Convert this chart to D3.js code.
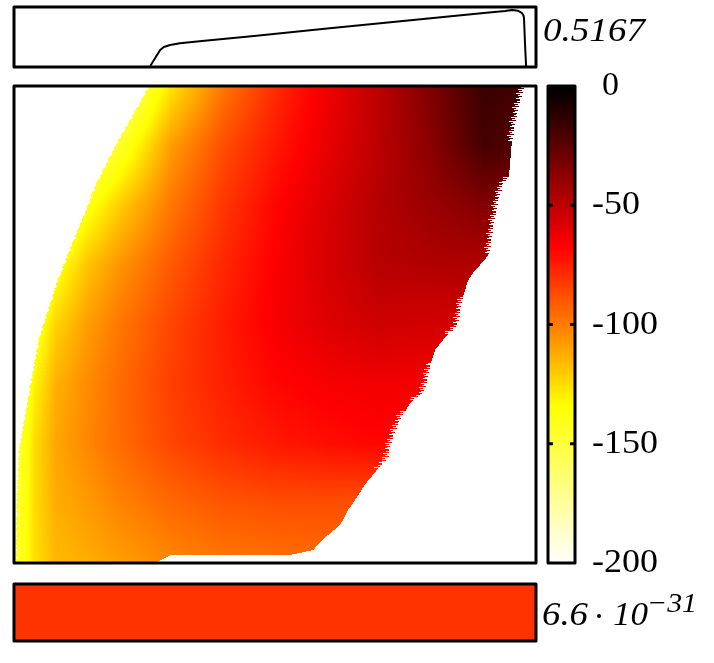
<!DOCTYPE html>
<html><head><meta charset="utf-8">
<script src="https://cdn.jsdelivr.net/npm/d3@7"></script>
<style>html,body{margin:0;padding:0;background:#fff}#w{position:relative;width:714px;height:663px}canvas,svg{position:absolute;left:0;top:0}</style>
</head><body><div id="w"><canvas id="c" width="714" height="663"></canvas><svg id="s" width="714" height="663"></svg></div>
<script>
// value grid: columns / rows in percent of the panel
const gridX = [0,4,8,14,20,30,40,50,60,70,80,90,100];
const gridY = [0,12.5,25,37.5,50,62.5,75,87.5,100];
const gridV = [
 [-240,-225,-210,-190,-170,-127,-98,-78,-63,-49,-33,-15,-18],
 [-215,-200,-188,-165,-145,-108,-87,-73,-61,-49,-36,-18,-24],
 [-195,-178,-160,-138,-121,-98,-81,-68,-57,-47,-40,-34,-36],
 [-180,-160,-138,-118,-106,-90,-77,-66,-56,-48,-46,-46,-48],
 [-168,-142,-122,-108,-98,-85,-74,-65,-58,-54,-55,-56,-58],
 [-158,-130,-113,-103,-95,-83,-75,-68,-65,-63,-65,-66,-68],
 [-153,-124,-110,-102,-95,-85,-78,-73,-70,-68,-68,-70,-72],
 [-150,-124,-112,-107,-101,-94,-89,-87,-87,-88,-90,-92,-94],
 [-148,-125,-115,-112,-108,-102,-98,-96,-95,-96,-98,-100,-102]
];
// domain outline of the filled area
const leftY  = [0,5.7,11.3,19.7,30.2,40.7,53.2,65.8,76.3,86.8,100];
const leftX  = [25.7,22.8,19.9,15.9,12.1,8.2,4.6,2.5,0.8,0.4,0.2];
const rightY = [0,5,11.3,19.3,20.1,23.9,29.1,35,36.5,38.6,40.7,44.9,50.1,53.2,55.3,58.5,61.6,64.2,65.8,69,72.1,75.3,78,80.5,83.6,86.2,88.9,92,95.2,97.3,98.3,98.4,99.8,100];
const rightX = [97.7,96.4,95.4,94.8,93.7,92.7,91.8,91,90.2,88.3,87,85.8,84.9,82.2,80.7,79.7,79.1,78.4,76.4,74.3,73,72,71.5,69.5,67.2,65.7,64,62.5,59,57.3,52.9,29.9,27.4,27];
const leftTeeth  = [0,.1,.2,.3,.15,.05,.15,.25,.35,.2,.05,.15];
const rightTeeth = [0,-.5,.1,-.9,-.2,-.6,.2,-1.1,-.3,-.7,.1,-.4,-.8,0];
// profile curve
const profileX = [26.1,28,28.7,29.9,31.8,36,45,60,75,90,94.1,95.4,96.6,97.3,97.6,97.7,97.9,98.1];
const profileV = [0,.148,.175,.194,.209,.23,.273,.345,.417,.49,.507,.5167,.509,.489,.466,.443,.2,0];
const profileMax = 0.5167;
const colorTicks = [0,-50,-100,-150,-200];
const colorStops = [-200,-133.3,-66.7,0];
const colorHues = ["#ffffff","#ffff00","#ff0000","#000000"];
const bottomValue = -80;
const topLabel = "0.5167";

const W=[14,536], mainY=[86,563], topY=[7,67], botY=[584,641], barX=[548,575];
const color=d3.scaleLinear().domain(colorStops).range(colorHues).clamp(true);
const x=d3.scaleLinear().domain([0,100]).range(W);
const y=d3.scaleLinear().domain([0,100]).range(mainY);
const lerp=(xs,ys,v)=>d3.scaleLinear().domain(xs).range(ys).clamp(true)(v);

function sample(px,py){
  const i=Math.max(0,Math.min(gridX.length-2,d3.bisectRight(gridX,px)-1));
  const j=Math.max(0,Math.min(gridY.length-2,d3.bisectRight(gridY,py)-1));
  const a=(px-gridX[i])/(gridX[i+1]-gridX[i]), b=(py-gridY[j])/(gridY[j+1]-gridY[j]);
  return (gridV[j][i]*(1-a)+gridV[j][i+1]*a)*(1-b)+(gridV[j+1][i]*(1-a)+gridV[j+1][i+1]*a)*b;
}
const ctx=document.getElementById('c').getContext('2d');
for(let py=mainY[0];py<mainY[1];py++){
  const v=y.invert(py+.5);
  const row=py-mainY[0];
  const L=lerp(leftY,leftX,v)+leftTeeth[row%leftTeeth.length];
  const tooth=(v>19&&v<35)||(v>44&&v<52)||(v>58&&v<66)||(v>68&&v<80)||(v>0&&v<12)?rightTeeth[row%rightTeeth.length]:0;
  const R=lerp(rightY,rightX,v)+tooth;
  for(let p=Math.round(x(L));p<Math.round(x(R));p++){
    ctx.fillStyle=color(sample(x.invert(p+.5),v));
    ctx.fillRect(p,py,1,1);
  }
}
const svg=d3.select('#s');
const FONT="'Liberation Serif',serif";
const frame=(ys,xs,fill)=>svg.append('rect').attr('x',xs[0]).attr('y',ys[0]).attr('width',xs[1]-xs[0]).attr('height',ys[1]-ys[0]).attr('fill',fill).attr('stroke','#000').attr('stroke-width',3).attr('stroke-linejoin','round');

// colour bar
const barY=d3.scaleLinear().domain([0,-200]).range(mainY);
svg.append('g').attr('shape-rendering','crispEdges').selectAll('rect').data(d3.range(-200,0,.5)).join('rect')
 .attr('x',barX[0]).attr('width',barX[1]-barX[0]).attr('y',d=>barY(d+.5)).attr('height',3).attr('fill',d=>color(d+.25));
frame(mainY,barX,'none');
frame(mainY,W,'none');
svg.append('g').selectAll('path').data(colorTicks.slice(1,4)).join('path')
 .attr('d',d=>`M${barX[0]},${barY(d)}h5M${barX[1]},${barY(d)}h-5`).attr('stroke','#000').attr('stroke-width',3);
svg.append('g').selectAll('text').data(colorTicks).join('text')
 .attr('x',d=>d===0?602:592).attr('y',d=>barY(d)+9).attr('font-family',FONT).attr('font-size',33)
 .attr('lengthAdjust','spacingAndGlyphs')
 .attr('textLength',d=>d===0?17:d===-50?48:66)
 .text(d=>String(d));

// profile panel
const px=d3.scaleLinear().domain([0,100]).range(W);
const py=d3.scaleLinear().domain([0,profileMax]).range([66,10]);
frame(topY,W,'#fff');
svg.append('path').datum(d3.zip(profileX,profileV)).attr('fill','none').attr('stroke','#000').attr('stroke-width',2)
 .attr('stroke-linejoin','round')
 .attr('d',d3.line().x(d=>px(d[0])).y(d=>py(d[1])));
svg.append('text').attr('x',543).attr('y',41).attr('font-family',FONT).attr('font-style','italic').attr('font-size',34)
 .attr('lengthAdjust','spacingAndGlyphs').attr('textLength',102).text(topLabel);

// bottom panel
frame(botY,W,color(bottomValue));
const t=svg.append('g').attr('font-family',FONT).attr('font-style','italic').attr('font-size',34);
t.append('text').attr('x',542).attr('y',625).attr('lengthAdjust','spacingAndGlyphs').attr('textLength',46).text('6.6');
t.append('circle').attr('cx',599).attr('cy',616).attr('r',2).attr('fill','#000');
t.append('text').attr('x',613).attr('y',625).attr('lengthAdjust','spacingAndGlyphs').attr('textLength',35).text('10');
t.append('text').attr('x',647).attr('y',612).attr('font-size',28).attr('lengthAdjust','spacingAndGlyphs').attr('textLength',50).text('−31');
</script></body></html>
